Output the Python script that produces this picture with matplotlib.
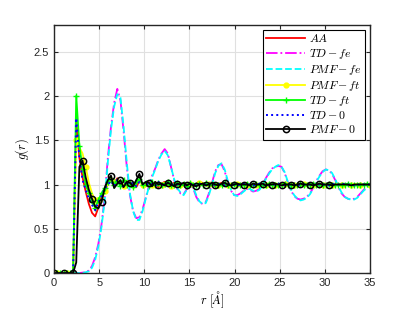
import matplotlib
matplotlib.use('Agg')
import matplotlib.pyplot as plt
import numpy as np

plt.rcParams['mathtext.fontset'] = 'cm'
plt.rcParams['font.family'] = ['Liberation Sans', 'DejaVu Sans']

# radial grid, step 0.35 A
r = np.linspace(0, 35, 101)

aa = [0, 0, 0, 0, 0, 0, 0, 1.72, 1.3, 1.08,
      0.92, 0.78, 0.68, 0.64, 0.74, 0.86, 0.93, 1.0, 1.06, 1.02,
      1.07, 1.0, 1.04, 0.98, 1.03, 1.0, 0.97, 1.04, 1.01, 0.98,
      1.03, 0.99, 1.02, 0.97, 1.01, 1.03, 0.99, 1.0, 1.02, 0.98,
      1.01, 0.99, 1.02, 1.0, 0.98, 1.01, 1.0, 1.02, 0.99, 1.0,
      1.01, 0.98, 1.0, 1.02, 1.0, 0.99, 1.01, 1.0, 0.99, 1.01,
      1.0, 1.01, 0.99, 1.0, 1.01, 1.0, 0.99, 1.0, 1.01, 1.0,
      0.99, 1.0, 1.01, 1.0, 1.0, 0.99, 1.01, 1.0, 1.0, 0.99,
      1.0, 1.01, 1.0, 0.99, 1.0, 1.0, 1.01, 1.0, 0.99, 1.0,
      1.0, 1.01, 1.0, 1.0, 0.99, 1.0, 1.0, 1.01, 1.0, 1.0,
      1.0]

td_fe = [0, 0, 0, 0, 0, 0, 0, 0, 0, 0.005,
         0.01, 0.03, 0.08, 0.18, 0.33, 0.55, 0.85, 1.3, 1.65, 1.92,
         2.08, 1.95, 1.6, 1.2, 0.88, 0.7, 0.62, 0.63, 0.72, 0.85,
         0.98, 1.1, 1.18, 1.28, 1.35, 1.4, 1.35, 1.2, 1.05, 0.95,
         0.9, 0.89, 0.95, 1.0, 0.96, 0.86, 0.8, 0.78, 0.8, 0.9,
         1.02, 1.15, 1.22, 1.23, 1.15, 1.02, 0.93, 0.88, 0.88, 0.9,
         0.93, 0.95, 0.94, 0.92, 0.93, 0.95, 1.0, 1.07, 1.13, 1.18,
         1.2, 1.21, 1.2, 1.13, 1.02, 0.93, 0.87, 0.84, 0.83, 0.84,
         0.86, 0.9, 0.96, 1.04, 1.1, 1.15, 1.17, 1.16, 1.12, 1.05,
         0.97, 0.9, 0.86, 0.84, 0.83, 0.84, 0.86, 0.9, 0.94, 0.97,
         1.0]

pmf_fe = [0, 0, 0, 0, 0, 0, 0, 0, 0, 0,
          0.01, 0.02, 0.06, 0.15, 0.3, 0.52, 0.82, 1.25, 1.62, 1.88,
          2.02, 1.98, 1.65, 1.25, 0.9, 0.7, 0.6, 0.6, 0.7, 0.84,
          0.97, 1.08, 1.17, 1.27, 1.34, 1.38, 1.33, 1.2, 1.06, 0.96,
          0.91, 0.88, 0.94, 0.99, 0.97, 0.88, 0.81, 0.78, 0.79, 0.88,
          1.0, 1.13, 1.21, 1.24, 1.17, 1.04, 0.94, 0.88, 0.87, 0.89,
          0.92, 0.95, 0.95, 0.93, 0.92, 0.94, 0.99, 1.06, 1.12, 1.17,
          1.2, 1.22, 1.2, 1.14, 1.03, 0.94, 0.88, 0.84, 0.82, 0.83,
          0.85, 0.89, 0.95, 1.03, 1.09, 1.14, 1.17, 1.16, 1.13, 1.06,
          0.98, 0.91, 0.86, 0.84, 0.83, 0.83, 0.85, 0.89, 0.93, 0.96,
          1.0]

pmf_ft = [0, 0, 0, 0, 0, 0, 0, 1.5, 1.42, 1.35,
          1.2, 1.02, 0.9, 0.82, 0.85, 0.8, 0.93, 1.0, 1.08, 1.03,
          1.05, 1.02, 0.98, 1.04, 1.02, 0.99, 1.03, 1.05, 1.0, 0.99,
          1.02, 1.0, 1.03, 0.99, 1.0, 1.02, 1.0, 0.98, 1.01, 1.0,
          0.99, 1.02, 1.0, 1.01, 0.99, 1.0, 1.02, 1.0, 0.99, 1.01,
          1.0, 1.01, 0.99, 1.0, 1.01, 1.0, 1.0, 0.99, 1.01, 1.0,
          1.01, 1.0, 0.99, 1.0, 1.0, 1.01, 1.0, 0.99, 1.0, 1.01,
          1.0, 1.0, 0.99, 1.01, 1.0, 1.0, 1.0, 0.99, 1.0, 1.01,
          1.0, 0.99, 1.0, 1.0, 1.01, 1.0, 1.0, 0.99, 1.0, 1.0,
          1.01, 1.0, 1.0, 0.99, 1.0, 1.0, 1.01, 1.0, 1.0, 1.0,
          1.0]

td_ft = [0, 0, 0, 0, 0, 0, 0, 2.0, 1.44, 1.18,
         1.0, 0.9, 0.8, 0.74, 0.82, 0.9, 0.96, 1.03, 1.06, 1.0,
         1.04, 0.98, 1.05, 1.0, 1.02, 0.97, 1.03, 1.06, 1.0, 1.02,
         0.98, 1.03, 1.0, 1.02, 0.99, 1.01, 1.03, 0.99, 1.0, 1.02,
         1.0, 1.01, 0.98, 1.02, 1.0, 0.99, 1.01, 1.0, 1.02, 0.99,
         1.01, 1.0, 1.0, 0.99, 1.02, 1.0, 0.99, 1.01, 1.0, 1.0,
         0.99, 1.01, 1.0, 1.0, 1.01, 0.99, 1.0, 1.0, 1.01, 1.0,
         1.0, 0.99, 1.0, 1.01, 1.0, 1.0, 0.99, 1.0, 1.01, 1.0,
         1.0, 1.0, 1.01, 1.0, 0.99, 1.0, 1.0, 1.01, 1.0, 0.99,
         1.0, 1.0, 1.0, 1.01, 1.0, 0.99, 1.0, 1.0, 1.0, 1.01,
         1.0]

td_0 = [0, 0, 0, 0, 0, 0, 0, 1.75, 1.3, 1.05,
        0.94, 0.84, 0.77, 0.71, 0.8, 0.87, 0.95, 1.0, 1.04, 0.98,
        1.06, 1.01, 0.97, 1.04, 1.0, 1.02, 0.98, 1.03, 1.01, 0.99,
        1.02, 1.0, 0.98, 1.03, 1.0, 0.99, 1.02, 1.01, 0.99, 1.0,
        1.02, 0.99, 1.0, 1.01, 1.0, 0.99, 1.01, 1.0, 1.0, 1.02,
        0.99, 1.0, 1.01, 1.0, 0.99, 1.01, 1.0, 1.0, 0.99, 1.0,
        1.01, 1.0, 1.0, 0.99, 1.0, 1.01, 1.0, 1.0, 0.99, 1.0,
        1.0, 1.01, 1.0, 0.99, 1.0, 1.0, 1.01, 1.0, 0.99, 1.0,
        1.0, 1.0, 0.99, 1.01, 1.0, 1.0, 1.0, 0.99, 1.01, 1.0,
        1.0, 1.0, 1.01, 1.0, 1.0, 0.99, 1.0, 1.0, 1.0, 1.0,
        1.0]

pmf_0 = [0, 0, 0, 0, 0, 0, 0, 0.12, 1.2, 1.27,
         1.08, 0.94, 0.84, 0.75, 0.73, 0.8, 0.96, 1.05, 1.1, 0.96,
         1.01, 1.05, 0.97, 1.03, 1.02, 0.98, 1.05, 1.12, 1.0, 1.03,
         1.02, 0.98, 1.03, 1.0, 1.01, 0.99, 1.02, 1.0, 0.98, 1.01,
         1.0, 1.02, 0.99, 1.01, 0.99, 0.98, 1.0, 1.01, 0.99, 1.0,
         1.02, 1.0, 0.99, 1.01, 1.02, 1.0, 0.99, 1.0, 1.01, 1.0,
         1.0, 1.0, 0.99, 1.01, 1.0, 1.0, 1.01, 0.99, 1.0, 1.0,
         1.01, 1.0, 0.99, 1.0, 1.0, 1.0, 0.99, 1.0, 1.01, 1.0,
         1.0, 1.0, 0.99, 1.0, 1.01, 1.0, 1.0, 1.0, 0.99, 1.0,
         1.0, 1.0, 1.0, 1.0, 0.99, 1.0, 1.0, 1.0, 1.0, 1.0,
         1.0]

fig = plt.figure(figsize=(4.07, 3.22), dpi=100)
ax = fig.add_axes([0.133, 0.152, 0.776, 0.770])

ax.plot(r, aa, color='#ff0000', lw=1.3, label='$AA$')
ax.plot(r, td_fe, color='#ff00ff', lw=1.3, ls='-.', label='$TD-fe$')
ax.plot(r, pmf_fe, color='#00ffff', lw=1.3, ls='--', label='$PMF-fe$')
ax.plot(r, pmf_ft, color='#ffff00', lw=1.3, marker='o', ms=3.5,
        markevery=(1, 3), label='$PMF-ft$')
ax.plot(r, td_ft, color='#00ff00', lw=1.3, marker='+', ms=5,
        label='$TD-ft$')
ax.plot(r, td_0, color='#0000ff', lw=1.4, ls=':', label='$TD-0$')
ax.plot(r, pmf_0, color='black', lw=1.3, marker='o', ms=4.5, mfc='none',
        mew=1.1, markevery=list(range(0, 88, 3)), label='$PMF-0$')

ax.set_xlim(0, 35)
ax.set_ylim(0, 2.8)
ax.set_xticks(np.arange(0, 36, 5))
ax.set_yticks([0, 0.5, 1, 1.5, 2, 2.5])
ax.set_yticklabels(['0', '0.5', '1', '1.5', '2', '2.5'])
ax.tick_params(direction='in', top=True, right=True, labelsize=8,
               length=3, colors='#262626', width=0.8)
ax.grid(True, color='#e0e0e0', lw=0.8)
ax.set_axisbelow(True)
for s in ax.spines.values():
    s.set_linewidth(1.0)
    s.set_color('#262626')

ax.set_xlabel(r'$r\ [\AA]$', fontsize=9, labelpad=1)
ax.set_ylabel(r'$g(r)$', fontsize=9, labelpad=2)

leg = ax.legend(loc='upper right', fontsize=8.5, fancybox=False,
                edgecolor='black', framealpha=1, handlelength=3.3,
                borderaxespad=0.4, labelspacing=0.15, borderpad=0.3,
                handletextpad=0.3)
leg.get_frame().set_linewidth(0.8)

fig.savefig('out.png', dpi=100)
